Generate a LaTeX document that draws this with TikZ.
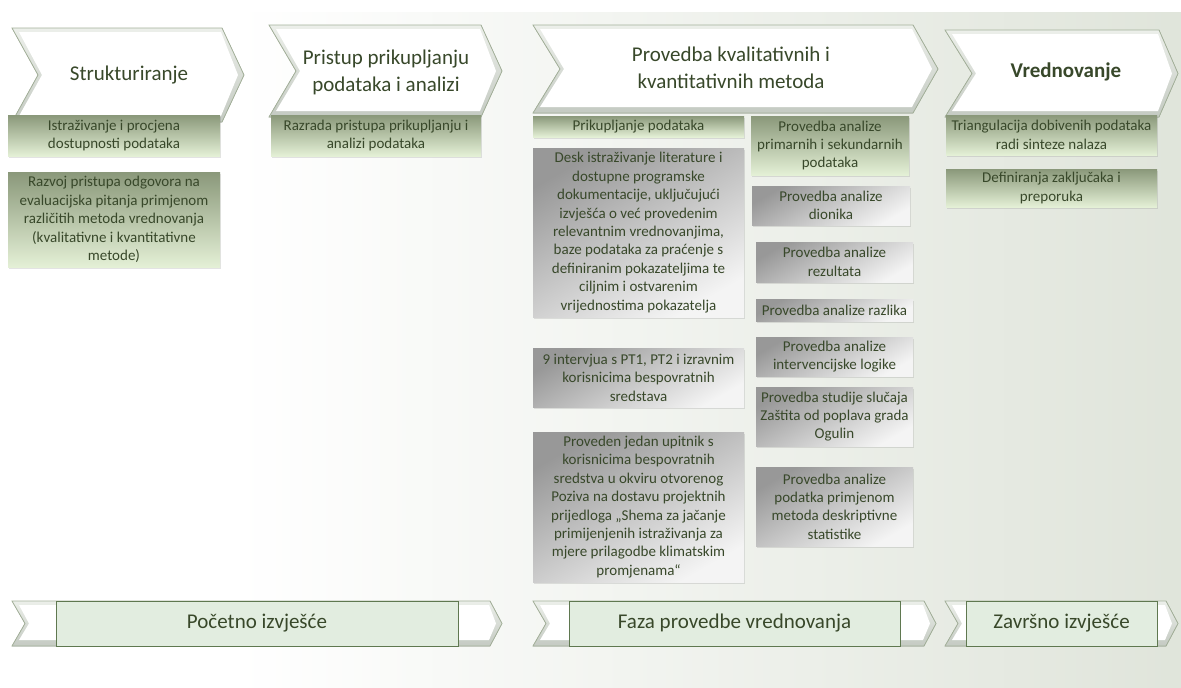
\documentclass[tikz,border=0pt]{standalone}
\usepackage{fontspec}
\setmainfont{Carlito}
\usetikzlibrary{shadows}
\definecolor{txt}{RGB}{56,72,42}
\definecolor{gtop}{RGB}{138,152,122}
\definecolor{gbot}{RGB}{228,240,214}
\definecolor{ytop}{RGB}{152,152,152}
\definecolor{ybot}{RGB}{244,244,244}
\definecolor{bgg}{RGB}{204,212,196}
\definecolor{chevline}{RGB}{165,178,155}
\definecolor{chevtop}{RGB}{236,239,234}
\definecolor{chevbot}{RGB}{196,202,194}
\definecolor{barfill}{RGB}{226,237,224}
\definecolor{barline}{RGB}{95,120,80}
\pgfdeclarehorizontalshading{bgshade}{100bp}{color(0bp)=(white); color(35bp)=(white); color(100bp)=(bgg)}
\newcommand\bx[7]{%
  \pgfmathsetmacro\bw{#5-#3}\pgfmathsetmacro\bh{#6-#4}%
  \pgfmathsetmacro\cx{(#3+#5)/2}\pgfmathsetmacro\cy{(#4+#6)/2}%
  \node[#1, minimum width=\bw pt, minimum height=\bh pt] (#2) at (\cx,\cy) {#7};}
\newcommand\chev[6]{%
  \pgfmathsetmacro\ym{(#4+#5)/2}%
  \filldraw[chevout] (#1,#4) -- (#2,#4) -- (#3,\ym) -- (#2,#5) -- (#1,#5) -- (#1+#6,\ym) -- cycle;
  \fill[white] (#1+7,#4+4) -- (#2-1,#4+4) -- (#3-6,\ym) -- (#2-1,#5-6) -- (#1+7,#5-6) -- (#1+#6+4,\ym) -- cycle;}
\begin{document}
\begin{tikzpicture}[x=1pt,y=-1pt,
  box/.style={align=center, text=txt, font=\fontsize{15}{18.4}\selectfont, inner sep=1pt,
    drop shadow={opacity=0.22, shadow xshift=1pt, shadow yshift=-1.5pt}},
  gbox/.style={box, top color=gtop, bottom color=gbot},
  ybox/.style={box, top color=ytop, bottom color=ybot, shading angle=30},
  chevout/.style={draw=chevline, line width=0.8pt, top color=chevtop, bottom color=chevbot},
  chevtext/.style={align=center, text=txt, font=\fontsize{21}{27}\selectfont},
  bar/.style={draw=barline, line width=1pt, fill=barfill, text=txt, font=\fontsize{21}{27}\selectfont, inner sep=0pt}]
\useasboundingbox (0,0) rectangle (1181,688);
\fill[white] (0,0) rectangle (1181,688);
\shade[shading=bgshade] (0,12) rectangle (1181,688);

% top chevrons
\chev{12}{222}{244}{28}{122}{26}
\chev{269}{481}{502}{25}{117}{27}
\chev{533}{913}{938}{25}{113}{27}
\chev{945}{1159}{1178}{30}{117}{27}
\node[chevtext] (c1) at (129,75) {Strukturiranje};
\node[chevtext] (c2) at (386,72) {Pristup prikupljanju\\podataka i analizi};
\node[chevtext] (c3) at (731,68) {Provedba kvalitativnih i\\kvantitativnih metoda};
\node[chevtext, font=\fontsize{21}{27}\selectfont\bfseries] (c4) at (1066,72) {Vrednovanje};

% boxes
\bx{gbox}{l1}{8}{115}{220}{156}{Istraživanje i procjena\\dostupnosti podataka}
\bx{gbox}{l2}{8}{172}{220}{267}{Razvoj pristupa odgovora na\\evaluacijska pitanja primjenom\\različitih metoda vrednovanja\\(kvalitativne i kvantitativne\\metode)}
\bx{gbox}{p1}{271}{115}{481}{156}{Razrada pristupa prikupljanju i\\analizi podataka}
\bx{gbox}{m1}{533}{116}{744}{137}{Prikupljanje podataka}
\bx{ybox}{m2}{533}{148}{744}{317}{Desk istraživanje literature i\\dostupne programske\\dokumentacije, uključujući\\izvješća o već provedenim\\relevantnim vrednovanjima,\\baze podataka za praćenje s\\definiranim pokazateljima te\\ciljnim i ostvarenim\\vrijednostima pokazatelja}
\bx{ybox}{m3}{533}{348}{744}{407}{9 intervjua s PT1, PT2 i izravnim\\korisnicima bespovratnih\\sredstava}
\bx{ybox}{m4}{533}{432}{744}{582}{Proveden jedan upitnik s\\korisnicima bespovratnih\\sredstva u okviru otvorenog\\Poziva na dostavu projektnih\\prijedloga „Shema za jačanje\\primijenjenih istraživanja za\\mjere prilagodbe klimatskim\\promjenama“}
\bx{gbox}{r1}{751}{116}{909}{175}{Provedba analize\\primarnih i sekundarnih\\podataka}
\bx{ybox}{r2}{752}{186}{910}{225}{Provedba analize\\dionika}
\bx{ybox}{r3}{756}{242}{913}{282}{Provedba analize\\rezultata}
\bx{ybox}{r4}{756}{299}{913}{321}{Provedba analize razlika}
\bx{ybox}{r5}{756}{337}{913}{376}{Provedba analize\\intervencijske logike}
\bx{ybox}{r6}{756}{387}{913}{446}{Provedba studije slučaja\\Zaštita od poplava grada\\Ogulin}
\bx{ybox}{r7}{756}{467}{913}{546}{Provedba analize\\podatka primjenom\\metoda deskriptivne\\statistike}
\bx{gbox}{e1}{946}{115}{1157}{155}{Triangulacija dobivenih podataka\\radi sinteze nalaza}
\bx{gbox}{e2}{946}{169}{1157}{207}{Definiranja zaključaka i\\preporuka}

% bottom bars
\chev{12}{490}{502}{601}{646}{13}
\chev{533}{924}{936}{601}{646}{13}
\chev{945}{1166}{1178}{601}{646}{13}
\bx{bar}{b1}{56}{601}{458}{646}{Početno izvješće}
\bx{bar}{b2}{569}{601}{900}{646}{Faza provedbe vrednovanja}
\bx{bar}{b3}{966}{601}{1157}{646}{Završno izvješće}
\end{tikzpicture}
\end{document}
